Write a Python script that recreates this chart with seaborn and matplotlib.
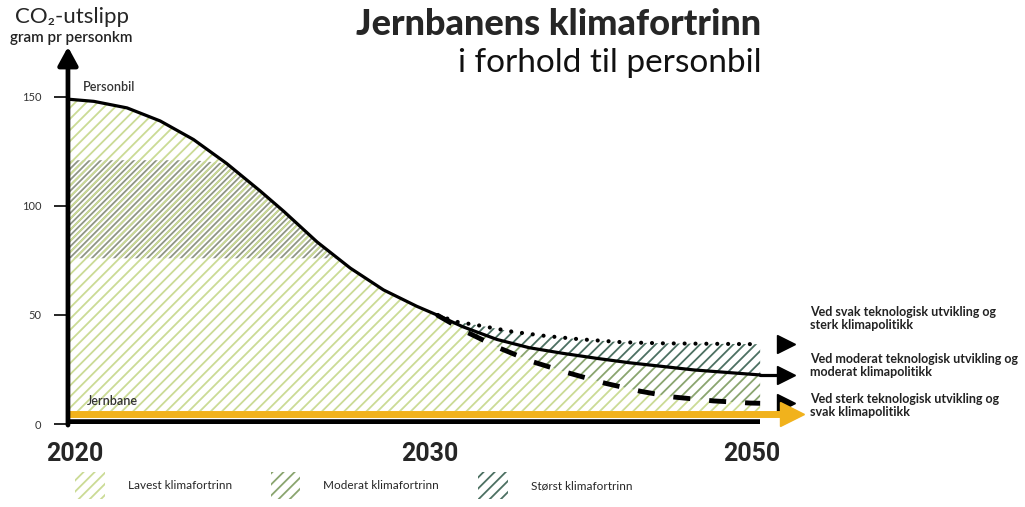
import numpy as np
import seaborn as sns
import matplotlib.pyplot as plt
import matplotlib.patches as mpatches
import matplotlib.transforms as mtransforms

# data (gram CO2 per personkm)
years_car = [2020.0, 2020.7, 2021.6, 2022.5, 2023.4, 2024.3, 2025.2, 2025.85,
             2026.75, 2027.65, 2028.55, 2029.45, 2030.0]
car = [149, 148, 145, 139, 130.5, 119.5, 107, 97.5, 83.5, 71.5, 61.5, 54, 50]

years_weak = [2030.0, 2031.2, 2032.6, 2034.7, 2036.7, 2038.8, 2041.5, 2044.0, 2047.0, 2050.0]
weak_tech = [50, 46.9, 45.2, 42.3, 40.4, 38.9, 37.5, 37.0, 36.8, 36.6]

years_moderate = [2030.0, 2031.6, 2033.7, 2035.7, 2037.8, 2039.9, 2041.9, 2045.9, 2050.0]
moderate_tech = [50, 44.6, 38.8, 35, 32.4, 30.1, 28.1, 24.8, 22.5]

years_strong = [2030.0, 2031.8, 2033.9, 2035.9, 2038.1, 2040.4, 2042.6, 2044.6, 2047.1, 2049.4, 2050.0]
strong_tech = [50, 42.3, 34.7, 28.6, 23.5, 18.7, 15, 12.4, 10.6, 9.6, 9.5]

rail = 4.5
band_low, band_high = 76, 121
y_ticks = [0, 50, 100, 150]
x_ticks = [2020, 2030, 2050]

scenario_labels = ["Ved svak teknologisk utvikling og\nsterk klimapolitikk",
                   "Ved moderat teknologisk utvikling og\nmoderat klimapolitikk",
                   "Ved sterk teknologisk utvikling og\nsvak klimapolitikk"]
scenario_label_y = [48.6, 27, 8.3]
legend_labels = ["Lavest klimafortrinn", "Moderat klimafortrinn", "Størst klimafortrinn"]

LIGHT = "#cbdb95"
MID = "#8aa56f"
DARK = "#4c7062"
BAND = "#8f9585"
YELLOW = "#f1b21c"

sns.set_theme(style="white")
plt.rcParams["font.family"] = ["Lato", "DejaVu Sans"]
plt.rcParams["hatch.linewidth"] = 1.3

# the reference squeezes 2030-2050 compared with 2020-2030
K = 0.4377


def fwd(t):
    t = np.asarray(t, dtype=float)
    return np.where(t <= 2030, t - 2020, 10 + (t - 2030) * K)


def inv(u):
    u = np.asarray(u, dtype=float)
    return np.where(u <= 10, u + 2020, 2030 + (u - 10) / K)


fig = plt.figure(figsize=(10.25, 5.07), dpi=100)
ax = fig.add_axes([0.0663, 0.1637, 0.7226, 0.7396])
ax.set_xscale("function", functions=(fwd, inv))

# hatched areas
car_arr = np.array(car)
ax.fill_between(years_car, band_low, np.minimum(car_arr, band_high),
                where=car_arr >= band_low, interpolate=True,
                facecolor="none", edgecolor=BAND, hatch="//////", linewidth=0, zorder=0.5)

light_x = years_car + years_strong[1:] + [2050, 2020]
light_y = car + strong_tech[1:] + [6, 6]
ax.fill(light_x, light_y, facecolor="none", edgecolor=LIGHT, hatch="///",
        linewidth=0, zorder=1)

mid_x = years_strong + years_moderate[::-1]
mid_y = strong_tech + moderate_tech[::-1]
ax.fill(mid_x, mid_y, facecolor="none", edgecolor=MID, hatch="///", linewidth=0, zorder=1.2)

top_x = years_moderate + years_weak[::-1]
top_y = moderate_tech + weak_tech[::-1]
ax.fill(top_x, top_y, facecolor="none", edgecolor=DARK, hatch="///", linewidth=0, zorder=1.2)

# lines
sns.lineplot(x=years_car, y=car, ax=ax, color="black", lw=2.3, zorder=4)
sns.lineplot(x=years_moderate, y=moderate_tech, ax=ax, color="black", lw=2.3, zorder=4)
sns.lineplot(x=years_weak, y=weak_tech, ax=ax, color="black", lw=3,
             linestyle=(0, (0.01, 2.6)), dash_capstyle="round", zorder=4)
sns.lineplot(x=years_strong, y=strong_tech, ax=ax, color="black", lw=3.5,
             linestyle=(0, (3.5, 3.9)), zorder=4)
ax.plot([2050, 2051.4], [moderate_tech[-1], moderate_tech[-1]], color="black",
        lw=2.3, zorder=4, clip_on=False)
for vals in (weak_tech, moderate_tech, strong_tech):
    ax.plot(2051.6, vals[-1], marker=">", ms=13, color="black",
            zorder=5, clip_on=False)

# rail (yellow arrow) and baseline
ax.plot([2020, 2050], [0.8, 0.8], color="black", lw=4, zorder=5,
        solid_capstyle="butt")
ax.plot([2020, 2051.4], [rail, rail], color=YELLOW, lw=5, zorder=6,
        solid_capstyle="butt", clip_on=False)
ax.plot(2052.0, rail, marker=">", ms=17, color=YELLOW, zorder=6, clip_on=False)

# y axis arrow
ax.annotate("", xy=(2020, 173), xytext=(2020, -0.5),
            arrowprops=dict(arrowstyle="-|>,head_length=0.55,head_width=0.3",
                            color="black", lw=3.4, mutation_scale=20,
                            shrinkA=0, shrinkB=0),
            annotation_clip=False, zorder=7)

ax.set_xlim(2020, 2053)
ax.set_ylim(0, 172)
for s in ax.spines.values():
    s.set_visible(False)

ax.set_yticks(y_ticks)
ax.set_yticklabels([str(v) for v in y_ticks], fontsize=8, color="#333333")
ax.tick_params(axis="y", which="both", left=True, direction="out", length=10,
               width=1.2, color="black", pad=9)
ax.set_xticks(x_ticks)
ax.set_xticklabels([str(v) for v in x_ticks], fontsize=18, fontweight="bold",
                   family=["Roboto", "DejaVu Sans"])
ax.tick_params(axis="x", bottom=False, length=0, pad=13)
for lab, dx in zip(ax.get_xticklabels(), [7, -7, -8]):
    lab.set_transform(lab.get_transform() +
                      mtransforms.ScaledTranslation(dx / 100, 0, fig.dpi_scale_trans))
ax.set_xlabel("")
ax.set_ylabel("")

# labels on the chart
ax.text(2020.4, 154.5, "Personbil", fontsize=9, fontweight="semibold",
        color="#333333", va="center", ha="left")
ax.text(2020.5, 10.5, "Jernbane", fontsize=9, fontweight="semibold",
        color="#333333", va="center", ha="left")
for label, yv in zip(scenario_labels, scenario_label_y):
    ax.text(2053.1, yv, label, fontsize=9, fontweight="bold", color="#222222",
            va="center", ha="left", linespacing=1.1, clip_on=False)

# titles
fig.text(0.07, 0.966, "CO\u2082-utslipp", fontsize=16, ha="center", va="center")
fig.text(0.07, 0.925, "gram pr personkm", fontsize=11, fontweight="semibold",
         ha="center", va="center", color="#222222")
fig.text(0.743, 0.931, "Jernbanens klimafortrinn", fontsize=26, fontweight="black",
         ha="right", va="baseline")
fig.text(0.743, 0.858, "i forhold til personbil", fontsize=24, fontweight="normal",
         ha="right", va="baseline", color="#111111")

# legend
handles = [mpatches.Patch(facecolor="none", edgecolor=c, hatch="///", linewidth=0)
           for c in (LIGHT, MID, DARK)]
fig.legend(handles, legend_labels, loc="center left", bbox_to_anchor=(0.063, 0.042),
           ncol=3, frameon=False, fontsize=8.5, handlelength=2.5, handleheight=3.2,
           handletextpad=1.95, columnspacing=3.3)

fig.savefig("out.png", dpi=100)
